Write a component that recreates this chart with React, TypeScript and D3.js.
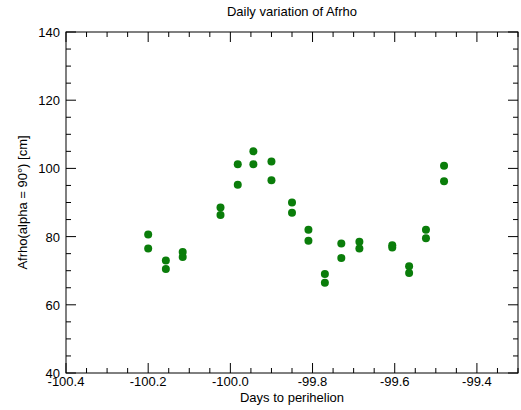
import React from 'react';
import * as d3 from 'd3';

const days = [-100.2, -100.157, -100.116, -100.024, -99.982, -99.944, -99.9, -99.85, -99.81, -99.77, -99.73, -99.686, -99.606, -99.565, -99.524, -99.48];
const afrhoA = [80.6, 73, 75.5, 88.5, 101.2, 105, 102, 90, 82, 69, 78, 78.5, 77.5, 71.3, 82, 100.8];
const afrhoB = [76.5, 70.5, 74, 86.3, 95.2, 101.2, 96.5, 87, 78.8, 66.5, 73.7, 76.5, 76.8, 69.3, 79.5, 96.2];
const xTicks = [-100.4, -100.2, -100.0, -99.8, -99.6, -99.4];
const yTicks = [40, 60, 80, 100, 120, 140];

const W = 521, H = 410;
const m = { left: 66, right: 3, top: 32, bottom: 37 };

const App: React.FC = () => {
  const x = d3.scaleLinear().domain([-100.4, -99.3]).range([m.left, W - m.right]);
  const y = d3.scaleLinear().domain([40, 140]).range([H - m.bottom, m.top]);
  const x0 = m.left, x1 = W - m.right, y0 = H - m.bottom, y1 = m.top;
  const xMinor = d3.range(0, 23).map(i => -100.4 + i * 0.05);
  const yMinor = d3.range(0, 21).map(i => 40 + i * 5);
  const pts = [...days.map((d, i) => [d, afrhoA[i]]), ...days.map((d, i) => [d, afrhoB[i]])];
  const font = 'Liberation Sans, Arial, sans-serif';

  return (
    <svg width={W} height={H} style={{ position: 'absolute', left: 0, top: 0 }} fontFamily={font}>
      <rect width={W} height={H} fill="#fff" />
      <text x={(x0 + x1) / 2} y={16} textAnchor="middle" fontSize={13}>Daily variation of Afrho</text>
      <rect x={x0} y={y1} width={x1 - x0} height={y0 - y1} fill="none" stroke="#000" strokeWidth={1} />
      {xMinor.map((t, i) => {
        const major = i % 4 === 0;
        const len = major ? 10 : 5;
        const px = x(t);
        return (
          <g key={'x' + i} stroke="#000">
            <line x1={px} x2={px} y1={y0} y2={y0 - len} />
            <line x1={px} x2={px} y1={y1} y2={y1 + len} />
          </g>
        );
      })}
      {yMinor.map((t, i) => {
        const major = i % 4 === 0;
        const len = major ? 10 : 5;
        const py = y(t);
        return (
          <g key={'y' + i} stroke="#000">
            <line x1={x0} x2={x0 + len} y1={py} y2={py} />
            <line x1={x1} x2={x1 - len} y1={py} y2={py} />
          </g>
        );
      })}
      {xTicks.map(t => (
        <text key={'xl' + t} x={x(t)} y={y0 + 13} textAnchor="middle" fontSize={13}>{t.toFixed(1)}</text>
      ))}
      {yTicks.map(t => (
        <text key={'yl' + t} x={x0 - 6} y={y(t) + 5} textAnchor="end" fontSize={13}>{t}</text>
      ))}
      <text x={(x0 + x1) / 2} y={y0 + 29} textAnchor="middle" fontSize={13}>Days to perihelion</text>
      <text transform={`translate(27,${(y0 + y1) / 2}) rotate(-90)`} textAnchor="middle" fontSize={13}>Afrho(alpha = 90°) [cm]</text>
      {pts.map((p, i) => (
        <circle key={i} cx={x(p[0])} cy={y(p[1])} r={4} fill="#0a7d0a" />
      ))}
    </svg>
  );
};

export default App;
